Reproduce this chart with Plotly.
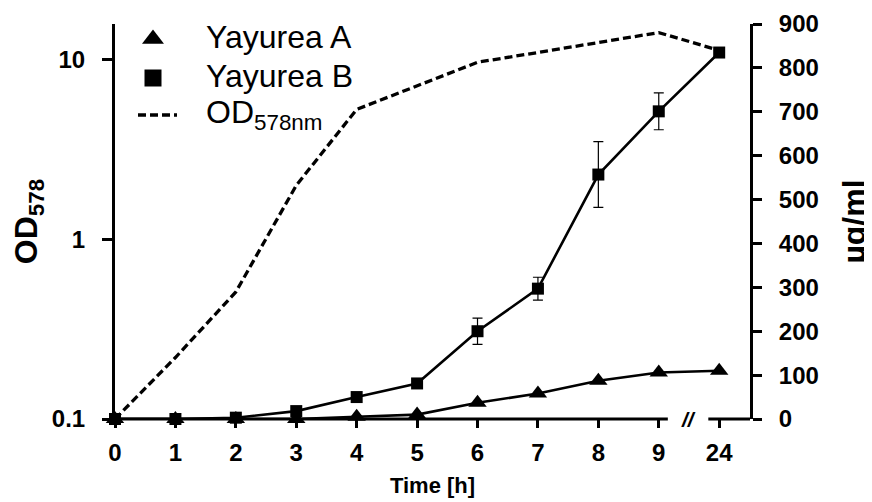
import plotly.graph_objects as go

# ---- data ----
time_labels = ["0", "1", "2", "3", "4", "5", "6", "7", "8", "9", "24"]
od578 = [0.1, 0.22, 0.51, 2.0, 5.3, 7.2, 9.7, 11.0, 12.5, 14.2, 11.3]
yayurea_a = [0, 0, 0, 0, 5, 10, 37, 58, 87, 106, 110]
yayurea_b = [0, 0, 3, 18, 50, 81, 200, 297, 557, 701, 835]
yayurea_b_err = [None, None, None, None, None, None, 30, 26, 75, 42, None]
legend_labels = ["Yayurea A", "Yayurea B", "OD<sub>578nm</sub>"]

FONT = "Liberation Sans, Arial, sans-serif"
BLACK = "black"
DASH = "8px,4px"

fig = go.Figure()

# OD curve (left log axis)
fig.add_trace(go.Scatter(
    x=time_labels, y=od578, mode="lines", yaxis="y", xaxis="x",
    line=dict(color=BLACK, width=3.3, dash=DASH), cliponaxis=False,
    name=legend_labels[2]))

# Yayurea B (right axis)
fig.add_trace(go.Scatter(
    x=time_labels, y=yayurea_b, mode="lines+markers", yaxis="y2", xaxis="x",
    line=dict(color=BLACK, width=2.6),
    marker=dict(symbol="square", size=12, color=BLACK),
    error_y=dict(type="data", array=yayurea_b_err, visible=True,
                 color=BLACK, thickness=1.2, width=5),
    cliponaxis=False, name=legend_labels[1]))

# Yayurea A (right axis)
fig.add_trace(go.Scatter(
    x=time_labels, y=yayurea_a, mode="lines+markers", yaxis="y2", xaxis="x",
    line=dict(color=BLACK, width=2.6),
    marker=dict(symbol="triangle-up", size=16, color=BLACK),
    cliponaxis=False, name=legend_labels[0]))

# ---- manual legend on a pixel-space helper axis pair (page pixels) ----
leg_sym_x = 153
leg_rows_y = [37, 76, 114]
fig.add_trace(go.Scatter(x=[leg_sym_x], y=[leg_rows_y[0] + 2], xaxis="x2", yaxis="y3",
                         mode="markers", marker=dict(symbol="triangle-up", size=19, color=BLACK),
                         cliponaxis=False, hoverinfo="skip"))
fig.add_trace(go.Scatter(x=[leg_sym_x], y=[leg_rows_y[1] + 2], xaxis="x2", yaxis="y3",
                         mode="markers", marker=dict(symbol="square", size=17, color=BLACK),
                         cliponaxis=False, hoverinfo="skip"))
fig.add_trace(go.Scatter(x=[138, 177], y=[leg_rows_y[2] + 1, leg_rows_y[2] + 1],
                         xaxis="x2", yaxis="y3",
                         mode="lines", line=dict(color=BLACK, width=3.3, dash=DASH),
                         cliponaxis=False, hoverinfo="skip"))

annotations = []
for lab, yy in zip(legend_labels, leg_rows_y):
    annotations.append(dict(x=204, y=yy, xref="x2", yref="y3", text=lab,
                            showarrow=False, xanchor="left", yanchor="middle",
                            font=dict(family=FONT, size=32, color=BLACK)))
# axis break mark
annotations.append(dict(x=(688 - 115) / 635, y=0, xref="paper", yref="paper",
                        text="<b><i>//</i></b>", showarrow=False,
                        xanchor="center", yanchor="middle",
                        font=dict(family=FONT, size=21, color=BLACK)))

# bottom axis line with a break
shapes = [
    dict(type="line", xref="x", yref="paper", x0=0, x1=9.15, y0=0, y1=0,
         line=dict(color=BLACK, width=3)),
    dict(type="line", xref="x", yref="paper", x0=9.82, x1=10.51, y0=0, y1=0,
         line=dict(color=BLACK, width=3)),
]

tickfont = dict(family=FONT, size=24, color=BLACK, weight="bold")

# The page body has an 8px margin, so the figure is 8px smaller than the window
fig.update_layout(
    width=864, height=494,
    margin=dict(l=107, r=122, t=16, b=83),
    paper_bgcolor="white", plot_bgcolor="white",
    showlegend=False,
    xaxis=dict(type="category", categoryorder="array", categoryarray=time_labels,
               range=[0, 10.51], ticks="outside", ticklen=8, tickwidth=2.5,
               tickcolor=BLACK, showline=False, showgrid=False, zeroline=False,
               tickfont=tickfont, ticklabelstandoff=4, automargin=False,
               title=dict(text="Time [h]", standoff=12,
                          font=dict(family=FONT, size=22, color=BLACK, weight="bold"))),
    yaxis=dict(type="log", range=[-1, 1.2], tickvals=[0.1, 1, 10],
               ticktext=["0.1", "1", "10"], ticks="outside", ticklen=10,
               tickwidth=2.5, tickcolor=BLACK, showline=True, linewidth=3,
               linecolor=BLACK, showgrid=False, zeroline=False,
               tickfont=tickfont, ticklabelstandoff=12, automargin=False,
               title=dict(text="OD<sub>578</sub>", standoff=10,
                          font=dict(family=FONT, size=32, color=BLACK, weight="bold"))),
    yaxis2=dict(overlaying="y", side="right", anchor="x", range=[0, 900],
                tickvals=list(range(0, 901, 100)), ticks="outside", ticklen=9,
                tickwidth=2.5, tickcolor=BLACK, showline=True, linewidth=3,
                linecolor=BLACK, showgrid=False, zeroline=False,
                tickfont=tickfont, ticklabelstandoff=12, automargin=False,
                title=dict(text="µg/ml", standoff=27,
                           font=dict(family=FONT, size=32, color=BLACK, weight="bold"))),
    xaxis2=dict(overlaying="x", range=[115, 750], visible=False, fixedrange=True,
                automargin=False),
    yaxis3=dict(overlaying="y", anchor="x2", range=[419, 24], visible=False,
                fixedrange=True, automargin=False),
    annotations=annotations,
    shapes=shapes,
)

fig.write_html("out.html")
